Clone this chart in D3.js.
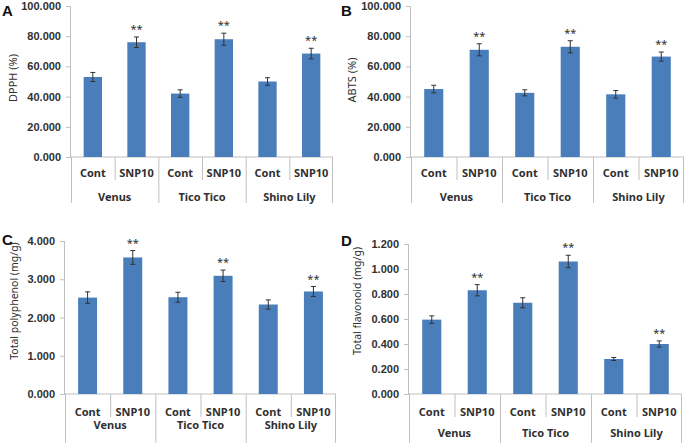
<!DOCTYPE html>
<html><head><meta charset="utf-8">
<script src="https://cdn.jsdelivr.net/npm/d3@7"></script>
<style>
body{margin:0;background:#fff;}
svg{display:block;font-family:"Noto Sans","Open Sans",sans-serif;}
</style></head>
<body><svg id="c" width="685" height="443"></svg>
<script>
const groups = ["Venus","Tico Tico","Shino Lily"];
const treatments = ["Cont","SNP10"];
const dpph = [53, 76, 42, 78, 50, 68.5];
const dpphErr = [3, 3.5, 2.5, 4, 2.5, 3.5];
const abts = [45, 71, 42.5, 73, 41.5, 66.5];
const abtsErr = [2.5, 4, 2, 4, 2.5, 3];
const polyphenol = [2.52, 3.57, 2.53, 3.09, 2.34, 2.68];
const polyphenolErr = [0.15, 0.18, 0.13, 0.15, 0.12, 0.13];
const flavonoid = [0.595, 0.83, 0.73, 1.06, 0.28, 0.40];
const flavonoidErr = [0.03, 0.045, 0.04, 0.05, 0.012, 0.025];
const signif = ["", "**", "", "**", "", "**"];
const ticksA = [0,20,40,60,80,100];
const ticksC = [0,1,2,3,4];
const ticksD = [0,0.2,0.4,0.6,0.8,1.0,1.2];

const svg = d3.select("#c");
const barColor = "#4a7ebb";
const axisColor = "#c0c0c0";
const textColor = "#303030";

function panel(o){
  const g = svg.append("g");
  const cats = [];
  groups.forEach(gr=>treatments.forEach(t=>cats.push(gr+"|"+t)));
  const x = d3.scaleBand().domain(cats).range([o.left,o.right]).paddingInner(0).paddingOuter(0);
  const y = d3.scaleLinear().domain([0,o.max]).range([o.zero,o.top]);
  const bw = x.bandwidth()*0.42;
  const ya = d3.axisLeft(y).tickValues(o.ticks).tickSize(5).tickPadding(5).tickFormat(d3.format(".3f"));
  const yg = g.append("g").attr("transform",`translate(${o.left},0)`).call(ya);
  yg.select(".domain").attr("stroke",axisColor).attr("d",`M-0.5,${o.top}V${o.zero}`);
  yg.selectAll(".tick line").attr("stroke",axisColor);
  yg.selectAll(".tick text").attr("fill",textColor).attr("font-size",11).attr("font-weight","bold");
  g.append("line").attr("x1",o.left).attr("x2",o.right).attr("y1",y(0)).attr("y2",y(0)).attr("stroke",axisColor);
  cats.forEach((c,i)=>{
    const xx = x(c);
    const isGroup = i%2===0;
    g.append("line").attr("x1",xx+0.5).attr("x2",xx+0.5).attr("y1",y(0))
      .attr("y2", isGroup ? o.zero+o.groupDepth : o.zero+23).attr("stroke",axisColor);
  });
  g.append("line").attr("x1",o.right-0.5).attr("x2",o.right-0.5).attr("y1",y(0)).attr("y2",o.zero+o.groupDepth).attr("stroke",axisColor);
  cats.forEach((c,i)=>{
    g.append("text").attr("x",x(c)+x.bandwidth()/2).attr("y",o.zero+o.tickOff)
      .attr("text-anchor","middle").attr("font-size",11).attr("font-weight","bold").attr("fill",textColor)
      .text(treatments[i%2]);
  });
  groups.forEach((gr,j)=>{
    const x0 = x(gr+"|Cont"), x1 = x(gr+"|SNP10")+x.bandwidth();
    g.append("text").attr("x",(x0+x1)/2).attr("y",o.zero+o.groupOff)
      .attr("text-anchor","middle").attr("font-size",11).attr("font-weight","bold").attr("fill",textColor)
      .text(gr);
  });
  cats.forEach((c,i)=>{
    const cx = x(c)+x.bandwidth()/2;
    g.append("rect").attr("x",cx-bw/2).attr("width",bw).attr("y",y(o.vals[i])).attr("height",y(0)-y(o.vals[i])).attr("fill",barColor);
    const e = o.errs[i];
    const yt = y(o.vals[i]+e), yb = y(o.vals[i]-e);
    g.append("line").attr("x1",cx).attr("x2",cx).attr("y1",yt).attr("y2",yb).attr("stroke","#333").attr("stroke-width",1);
    g.append("line").attr("x1",cx-2.5).attr("x2",cx+2.5).attr("y1",yt).attr("y2",yt).attr("stroke","#333");
    g.append("line").attr("x1",cx-2.5).attr("x2",cx+2.5).attr("y1",yb).attr("y2",yb).attr("stroke","#333");
    if(signif[i]) g.append("text").attr("x",cx).attr("y",yt-4).attr("text-anchor","middle")
      .attr("font-size",11).attr("fill",textColor).text(signif[i]);
  });
  g.append("text").attr("transform",`translate(${o.titleX},${o.titleY}) rotate(-90)`)
    .attr("text-anchor","middle").attr("font-size",o.titleSize).attr("fill",textColor).text(o.title);
  g.append("text").attr("x",o.letterX).attr("y",o.letterY).attr("font-size",15).attr("font-weight","bold")
    .attr("fill","#111").attr("font-family","Liberation Sans, Arial, sans-serif").text(o.letter);
}

panel({left:71,right:333,top:6,zero:157,max:100,ticks:ticksA,vals:dpph,errs:dpphErr,groupDepth:46,tickOff:20,groupOff:44,
  title:"DPPH (%)",titleSize:11,titleX:17,titleY:78,letter:"A",letterX:2,letterY:16});
panel({left:411,right:684,top:6,zero:157,max:100,ticks:ticksA,vals:abts,errs:abtsErr,groupDepth:46,tickOff:20,groupOff:44,
  title:"ABTS (%)",titleSize:11,titleX:356,titleY:80,letter:"B",letterX:341,letterY:16});
panel({left:65,right:336,top:241,zero:394,max:4,ticks:ticksC,vals:polyphenol,errs:polyphenolErr,groupDepth:60,tickOff:21.5,groupOff:35,
  title:"Total polyphenol (mg/g)",titleSize:10.5,titleX:18,titleY:301,letter:"C",letterX:2,letterY:245});
panel({left:409,right:682,top:244,zero:394,max:1.2,ticks:ticksD,vals:flavonoid,errs:flavonoidErr,groupDepth:60,tickOff:21.5,groupOff:42.5,
  title:"Total flavonoid (mg/g)",titleSize:10.5,titleX:361,titleY:301,letter:"D",letterX:341,letterY:246});
</script></body></html>
